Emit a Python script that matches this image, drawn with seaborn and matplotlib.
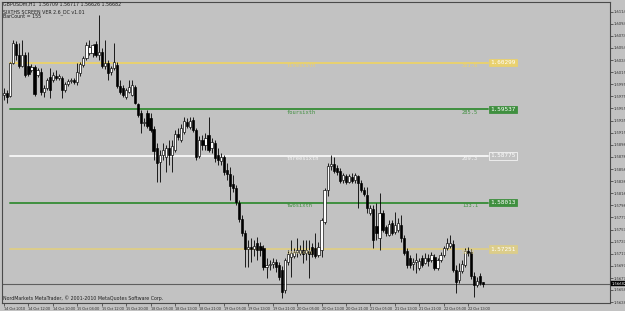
import numpy as np
import pandas as pd
import matplotlib
matplotlib.use("Agg")
import matplotlib.pyplot as plt
import seaborn as sns

# ---------------- data (GBPUSD H1) ----------------
opens = [1.5977, 1.5981, 1.5976, 1.6030, 1.6061, 1.6043, 1.6025, 1.6043, 1.6025, 1.6018,
         1.6023, 1.6010, 1.6015, 1.5982, 1.5989, 1.6007, 1.6002, 1.6009, 1.6005, 1.6005,
         1.5986, 1.5995, 1.6000, 1.6002, 1.5999, 1.6013, 1.6027, 1.6038, 1.6046, 1.6046,
         1.6061, 1.6043, 1.6048, 1.6025, 1.6030, 1.6015, 1.6022, 1.6027, 1.5992, 1.5989,
         1.5974, 1.5982, 1.5977, 1.5991, 1.5963, 1.5948, 1.5932, 1.5948, 1.5940, 1.5922,
         1.5891, 1.5868, 1.5879, 1.5876, 1.5891, 1.5879, 1.5887, 1.5914, 1.5904, 1.5917,
         1.5933, 1.5925, 1.5936, 1.5920, 1.5878, 1.5904, 1.5896, 1.5912, 1.5891, 1.5899,
         1.5879, 1.5869, 1.5876, 1.5855, 1.5848, 1.5832, 1.5825, 1.5800, 1.5774, 1.5751,
         1.5725, 1.5728, 1.5725, 1.5735, 1.5730, 1.5727, 1.5696, 1.5699, 1.5701, 1.5704,
         1.5699, 1.5691, 1.5658, 1.5704, 1.5712, 1.5714, 1.5720, 1.5719, 1.5724, 1.5719,
         1.5722, 1.5728, 1.5727, 1.5715, 1.5724, 1.5769, 1.5822, 1.5861, 1.5864, 1.5858,
         1.5853, 1.5838, 1.5845, 1.5835, 1.5843, 1.5838, 1.5845, 1.5833, 1.5822, 1.5814,
         1.5784, 1.5791, 1.5763, 1.5743, 1.5784, 1.5761, 1.5748, 1.5768, 1.5753, 1.5756,
         1.5764, 1.5743, 1.5722, 1.5710, 1.5701, 1.5704, 1.5694, 1.5710, 1.5702, 1.5710,
         1.5707, 1.5712, 1.5694, 1.5707, 1.5715, 1.5727, 1.5730, 1.5733, 1.5691, 1.5674,
         1.5689, 1.5699, 1.5722, 1.5720, 1.5681, 1.5666, 1.5681, 1.56709]
highs = [1.5989, 1.5986, 1.6031, 1.6067, 1.6066, 1.6063, 1.6067, 1.6048, 1.6048, 1.6028,
         1.6027, 1.6022, 1.6022, 1.5994, 1.6005, 1.6022, 1.6015, 1.6018, 1.6012, 1.6009,
         1.5999, 1.6004, 1.6005, 1.6005, 1.6030, 1.6031, 1.6041, 1.6064, 1.6067, 1.6061,
         1.6066, 1.6108, 1.6054, 1.6067, 1.6035, 1.6025, 1.6063, 1.6031, 1.6002, 1.5994,
         1.5989, 1.6002, 1.6002, 1.5994, 1.5964, 1.5953, 1.5940, 1.5953, 1.5948, 1.5927,
         1.5899, 1.5887, 1.5899, 1.5896, 1.5904, 1.5904, 1.5920, 1.5923, 1.5930, 1.5941,
         1.5940, 1.5941, 1.5941, 1.5923, 1.5910, 1.5912, 1.5915, 1.5941, 1.5907, 1.5904,
         1.5891, 1.5882, 1.5879, 1.5866, 1.5860, 1.5846, 1.5830, 1.5805, 1.5781, 1.5756,
         1.5740, 1.5743, 1.5740, 1.5745, 1.5737, 1.5732, 1.5710, 1.5707, 1.5710, 1.5709,
         1.5704, 1.5697, 1.5710, 1.5724, 1.5740, 1.5727, 1.5743, 1.5732, 1.5740, 1.5740,
         1.5740, 1.5735, 1.5751, 1.5737, 1.5776, 1.5825, 1.5866, 1.5879, 1.5876, 1.5863,
         1.5858, 1.5850, 1.5848, 1.5848, 1.5850, 1.5850, 1.5846, 1.5838, 1.5827, 1.5827,
         1.5797, 1.5797, 1.5800, 1.5817, 1.5789, 1.5764, 1.5773, 1.5773, 1.5786, 1.5776,
         1.5781, 1.5748, 1.5727, 1.5715, 1.5710, 1.5719, 1.5710, 1.5715, 1.5719, 1.5717,
         1.5720, 1.5717, 1.5710, 1.5720, 1.5730, 1.5743, 1.5748, 1.5740, 1.5699, 1.5702,
         1.5707, 1.5727, 1.5728, 1.5725, 1.5687, 1.5679, 1.5686, 1.56717]
lows = [1.5969, 1.5964, 1.5974, 1.6028, 1.6035, 1.6022, 1.6023, 1.6007, 1.6009, 1.6015,
        1.5976, 1.6007, 1.5977, 1.5974, 1.5986, 1.5972, 1.5999, 1.6002, 1.6002, 1.5972,
        1.5982, 1.5992, 1.5997, 1.5995, 1.5994, 1.6009, 1.6023, 1.6035, 1.6043, 1.6040,
        1.6040, 1.6035, 1.6022, 1.6020, 1.6002, 1.6010, 1.6018, 1.5989, 1.5979, 1.5974,
        1.5971, 1.5981, 1.5976, 1.5963, 1.5941, 1.5915, 1.5927, 1.5923, 1.5917, 1.5871,
        1.5835, 1.5835, 1.5871, 1.5851, 1.5863, 1.5851, 1.5884, 1.5904, 1.5900, 1.5914,
        1.5923, 1.5922, 1.5917, 1.5871, 1.5874, 1.5887, 1.5887, 1.5884, 1.5882, 1.5868,
        1.5863, 1.5863, 1.5846, 1.5838, 1.5805, 1.5819, 1.5797, 1.5769, 1.5746, 1.5696,
        1.5696, 1.5704, 1.5714, 1.5707, 1.5714, 1.5691, 1.5678, 1.5691, 1.5694, 1.5687,
        1.5674, 1.5645, 1.5653, 1.5699, 1.5679, 1.5710, 1.5712, 1.5715, 1.5702, 1.5707,
        1.5678, 1.5712, 1.5710, 1.5712, 1.5712, 1.5766, 1.5812, 1.5855, 1.5850, 1.5846,
        1.5833, 1.5833, 1.5832, 1.5833, 1.5833, 1.5833, 1.5792, 1.5819, 1.5812, 1.5784,
        1.5781, 1.5727, 1.5740, 1.5724, 1.5753, 1.5746, 1.5746, 1.5748, 1.5750, 1.5753,
        1.5737, 1.5715, 1.5694, 1.5694, 1.5691, 1.5686, 1.5691, 1.5696, 1.5701, 1.5697,
        1.5704, 1.5691, 1.5691, 1.5704, 1.5712, 1.5724, 1.5727, 1.5687, 1.5653, 1.5669,
        1.5686, 1.5696, 1.5714, 1.5676, 1.5646, 1.5663, 1.5666, 1.56626]
closes = [1.5981, 1.5974, 1.6030, 1.6063, 1.6043, 1.6025, 1.6043, 1.6010, 1.6012, 1.6023,
          1.5979, 1.6018, 1.5982, 1.5989, 1.6002, 1.5986, 1.6010, 1.6005, 1.6009, 1.5986,
          1.5995, 1.6000, 1.6002, 1.5999, 1.6015, 1.6028, 1.6038, 1.6059, 1.6056, 1.6059,
          1.6043, 1.6048, 1.6025, 1.6030, 1.6013, 1.6022, 1.6031, 1.5992, 1.5982, 1.5977,
          1.5986, 1.5991, 1.5994, 1.5964, 1.5945, 1.5932, 1.5933, 1.5927, 1.5920, 1.5886,
          1.5866, 1.5879, 1.5887, 1.5891, 1.5879, 1.5894, 1.5914, 1.5909, 1.5923, 1.5935,
          1.5927, 1.5935, 1.5920, 1.5876, 1.5904, 1.5896, 1.5907, 1.5887, 1.5900, 1.5874,
          1.5871, 1.5876, 1.5851, 1.5848, 1.5828, 1.5825, 1.5802, 1.5774, 1.5751, 1.5725,
          1.5728, 1.5725, 1.5730, 1.5724, 1.5724, 1.5696, 1.5699, 1.5701, 1.5704, 1.5696,
          1.5679, 1.5655, 1.5707, 1.5717, 1.5719, 1.5720, 1.5724, 1.5724, 1.5717, 1.5724,
          1.5717, 1.5717, 1.5714, 1.5728, 1.5773, 1.5822, 1.5861, 1.5864, 1.5853, 1.5851,
          1.5837, 1.5846, 1.5835, 1.5845, 1.5837, 1.5846, 1.5833, 1.5822, 1.5815, 1.5792,
          1.5792, 1.5740, 1.5751, 1.5784, 1.5756, 1.5751, 1.5766, 1.5751, 1.5764, 1.5768,
          1.5743, 1.5719, 1.5699, 1.5699, 1.5704, 1.5707, 1.5705, 1.5699, 1.5710, 1.5705,
          1.5715, 1.5694, 1.5707, 1.5715, 1.5727, 1.5735, 1.5735, 1.5691, 1.5671, 1.5689,
          1.5701, 1.5722, 1.5719, 1.5681, 1.5666, 1.5673, 1.5669, 1.56682]

time_labels = ["14 Oct 2010", "14 Oct 12:00", "14 Oct 20:00", "15 Oct 04:00", "15 Oct 12:00",
               "15 Oct 20:00", "18 Oct 05:00", "18 Oct 13:00", "18 Oct 21:00", "19 Oct 05:00",
               "19 Oct 13:00", "19 Oct 21:00", "20 Oct 05:00", "20 Oct 13:00", "20 Oct 21:00",
               "21 Oct 05:00", "21 Oct 13:00", "21 Oct 21:00", "22 Oct 05:00", "22 Oct 13:00"]
label_every = 8

level_prices = [1.60299, 1.59537, 1.58775, 1.58013, 1.57251]
level_names = ["fivesixth", "foursixth", "threesixth", "twosixth", "onesixth"]
level_values = ["361.6", "285.5", "209.3", "133.1", "56.9"]

price_ticks = [1.61140, 1.60940, 1.60745, 1.60545, 1.60345, 1.60150, 1.59950, 1.59750,
               1.59555, 1.59355, 1.59155, 1.58960, 1.58760, 1.58560, 1.58365, 1.58165,
               1.57965, 1.57770, 1.57570, 1.57370, 1.57175, 1.56975, 1.56775, 1.56580, 1.56380]
bid_price = 1.56682

# ---------------- style ----------------
BG = "#c2c2c2"
level_colors = ["#e9d16f", "#3f8f3f", "#f4f4f4", "#3f8f3f", "#dccd8a"]
SMALL = ["Lato", "DejaVu Sans"]

sns.set_theme(style="ticks", rc={"axes.facecolor": BG, "figure.facecolor": BG,
                                 "axes.edgecolor": "#4a4a4a", "axes.linewidth": 0.8})
plt.rcParams["font.family"] = ["DejaVu Sans"]

fig = plt.figure(figsize=(6.25, 3.11), dpi=100)
ax = fig.add_axes([2 / 625, 8 / 311, 608 / 625, 301.5 / 311])

df = pd.DataFrame({"open": opens, "high": highs, "low": lows, "close": closes})
df["i"] = np.arange(len(df))
up = df["close"] >= df["open"]

# wicks
ax.vlines(df["i"], df[["low", "open", "close"]].min(axis=1),
          df[["high", "open", "close"]].max(axis=1), color="black", lw=0.6, zorder=3)
# bodies
body_bottom = df[["open", "close"]].min(axis=1)
body_h = (df["close"] - df["open"]).abs().clip(lower=0.00004)
ax.bar(df["i"][up], body_h[up], bottom=body_bottom[up], width=0.72,
       color="white", edgecolor="black", lw=0.45, zorder=4)
ax.bar(df["i"][~up], body_h[~up], bottom=body_bottom[~up], width=0.72,
       color="black", edgecolor="black", lw=0.45, zorder=4)

# sixths levels (seaborn line plot)
x_start, x_end = 2.0, 158.6
lv = pd.DataFrame({
    "x": [x_start, x_end] * len(level_prices),
    "y": [p for p in level_prices for _ in range(2)],
    "lvl": [n for n in level_names for _ in range(2)],
})
sns.lineplot(data=lv, x="x", y="y", hue="lvl", palette=dict(zip(level_names, level_colors)),
             linewidth=1.4, legend=False, ax=ax, zorder=2)

for p, n, v, c in zip(level_prices, level_names, level_values, level_colors):
    ax.text(92.7, p - 0.00008, n, color=c, fontsize=3.9, family="DejaVu Sans Mono",
            va="top", ha="left", zorder=5)
    ax.text(150.0, p - 0.00008, v, color=c, fontsize=3.9, family="DejaVu Sans Mono",
            va="top", ha="left", zorder=5)
    face = c if c != "#f4f4f4" else BG
    ax.text(159.3, p, f"{p:.5f}", color="white", fontsize=4.3, family="DejaVu Sans Mono",
            va="center", ha="left", zorder=6,
            bbox=dict(boxstyle="square,pad=0.18", fc=face, ec=c, lw=0.6))

# bid line
ax.axhline(bid_price, color="#5e5e5e", lw=0.8, zorder=1)
ax.annotate(f"{bid_price:.5f}", xy=(1.0, bid_price), xycoords=("axes fraction", "data"),
            xytext=(1.5, 0), textcoords="offset points", fontsize=3.0, color="white",
            va="center", ha="left", annotation_clip=False, family=SMALL,
            bbox=dict(boxstyle="square,pad=0.15", fc="black", ec="black", lw=0.3))

# axes ranges
ax.set_xlim(-0.655, 198.5)
ax.set_ylim(1.56367, 1.61305)

ax.yaxis.tick_right()
ax.set_yticks(price_ticks)
ax.set_yticklabels([f"{t:.5f}" for t in price_ticks], family=SMALL)
ax.tick_params(axis="y", which="both", length=2, width=0.5, pad=1, labelsize=3.0,
               colors="#303030", left=False, right=True)
tick_pos = [k * label_every for k in range(len(time_labels))]
ax.set_xticks(tick_pos)
ax.set_xticklabels(time_labels, ha="left", family=SMALL)
ax.tick_params(axis="x", length=2, width=0.5, pad=0.6, labelsize=2.7, colors="#303030")
ax.set_xlabel("")
ax.set_ylabel("")
for s in ax.spines.values():
    s.set_visible(True)
    s.set_color("#4a4a4a")
    s.set_linewidth(0.8)

# header texts
ax.text(0.002, 1 - 3.0 / 301.5, "GBPUSDm,H1  1.56709 1.56717 1.56626 1.56682",
        transform=ax.transAxes, fontsize=3.4, va="center", ha="left", color="#202020")
ax.text(0.002, 1 - 10.5 / 301.5, "SIXTHS SCREEN VER 2.6_DC v1.01",
        transform=ax.transAxes, fontsize=3.4, va="center", ha="left", color="#202020")
ax.text(0.002, 1 - 15.0 / 301.5, "BarCount = 155",
        transform=ax.transAxes, fontsize=3.4, va="center", ha="left", color="#202020")
ax.text(0.002, 2.0 / 301.5,
        "NordMarkets MetaTrader, \u00a9 2001-2010 MetaQuotes Software Corp.",
        transform=ax.transAxes, fontsize=3.4, va="bottom", ha="left", color="#202020")

fig.savefig("out.png", dpi=100, facecolor=BG)
